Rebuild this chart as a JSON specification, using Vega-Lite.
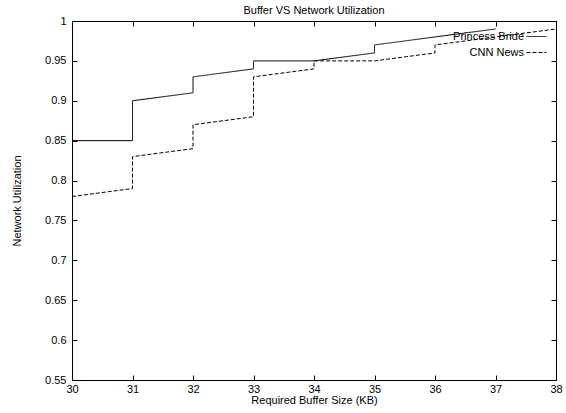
{
  "$schema": "https://vega.github.io/schema/vega-lite/v6.json",
  "width": 484,
  "height": 359,
  "autosize": {"type": "none"},
  "padding": {"left": 72, "top": 21, "right": 10, "bottom": 33},
  "background": "white",
  "title": {"text": "Buffer VS Network Utilization", "fontSize": 11, "font": "Liberation Sans", "fontWeight": "normal", "color": "black", "offset": -1},
  "config": {
    "view": {"stroke": "black", "strokeWidth": 1},
    "axis": {"labelFont": "Liberation Sans", "titleFont": "Liberation Sans", "labelFontSize": 11, "titleFontSize": 11, "titleFontWeight": "normal", "labelColor": "black", "titleColor": "black", "domainColor": "black", "tickColor": "black", "grid": false},
    "legend": {"labelFont": "Liberation Sans", "labelFontSize": 11, "labelColor": "black"}
  },
  "data": {"values": [
    {"s": "Princess Bride", "i": 0, "x": 30, "y": 0.85},
    {"s": "Princess Bride", "i": 1, "x": 31, "y": 0.85},
    {"s": "Princess Bride", "i": 2, "x": 31, "y": 0.90},
    {"s": "Princess Bride", "i": 3, "x": 32, "y": 0.91},
    {"s": "Princess Bride", "i": 4, "x": 32, "y": 0.93},
    {"s": "Princess Bride", "i": 5, "x": 33, "y": 0.94},
    {"s": "Princess Bride", "i": 6, "x": 33, "y": 0.95},
    {"s": "Princess Bride", "i": 7, "x": 34, "y": 0.95},
    {"s": "Princess Bride", "i": 8, "x": 35, "y": 0.96},
    {"s": "Princess Bride", "i": 9, "x": 35, "y": 0.97},
    {"s": "Princess Bride", "i": 10, "x": 36, "y": 0.98},
    {"s": "Princess Bride", "i": 11, "x": 37, "y": 0.99},
    {"s": "CNN News", "i": 0, "x": 30, "y": 0.78},
    {"s": "CNN News", "i": 1, "x": 31, "y": 0.79},
    {"s": "CNN News", "i": 2, "x": 31, "y": 0.83},
    {"s": "CNN News", "i": 3, "x": 32, "y": 0.84},
    {"s": "CNN News", "i": 4, "x": 32, "y": 0.87},
    {"s": "CNN News", "i": 5, "x": 33, "y": 0.88},
    {"s": "CNN News", "i": 6, "x": 33, "y": 0.93},
    {"s": "CNN News", "i": 7, "x": 34, "y": 0.94},
    {"s": "CNN News", "i": 8, "x": 34, "y": 0.95},
    {"s": "CNN News", "i": 9, "x": 35, "y": 0.95},
    {"s": "CNN News", "i": 10, "x": 36, "y": 0.96},
    {"s": "CNN News", "i": 11, "x": 36, "y": 0.97},
    {"s": "CNN News", "i": 12, "x": 37, "y": 0.98},
    {"s": "CNN News", "i": 13, "x": 38, "y": 0.99}
  ]},
  "resolve": {"axis": {"x": "independent", "y": "independent"}},
  "layer": [
    {
      "mark": {"type": "line", "color": "black", "strokeWidth": 1, "clip": true},
      "encoding": {
        "x": {"field": "x", "type": "quantitative", "scale": {"domain": [30, 38], "nice": false, "zero": false},
          "axis": {"title": "Required Buffer Size (KB)", "values": [30,31,32,33,34,35,36,37,38], "tickSize": -5, "labelPadding": 8, "titlePadding": 0, "format": "d", "labelFlush": false, "labelOverlap": false}},
        "y": {"field": "y", "type": "quantitative", "scale": {"domain": [0.55, 1], "nice": false, "zero": false},
          "axis": {"title": "Network Utilization", "values": [0.55,0.6,0.65,0.7,0.75,0.8,0.85,0.9,0.95,1], "tickSize": -5, "labelPadding": 11, "titlePadding": 22, "format": ".2~f", "labelFlush": false, "labelOverlap": false}},
        "detail": {"field": "s"},
        "order": {"field": "i", "type": "quantitative"},
        "strokeDash": {"field": "s", "type": "nominal",
          "scale": {"domain": ["Princess Bride", "CNN News"], "range": [[1, 0], [4, 2]]},
          "legend": {"title": null, "orient": "none", "legendX": 454, "legendY": 5, "symbolType": "stroke", "symbolSize": 400, "symbolStrokeColor": "black", "symbolStrokeWidth": 1, "labelAlign": "right", "labelOffset": -23, "rowPadding": -5, "padding": 0}}
      }
    },
    {
      "mark": {"type": "line", "opacity": 0},
      "encoding": {
        "x": {"field": "x", "type": "quantitative", "axis": {"orient": "top", "labels": false, "title": null, "values": [30,31,32,33,34,35,36,37,38], "tickSize": -5}},
        "y": {"field": "y", "type": "quantitative", "axis": {"orient": "right", "labels": false, "title": null, "values": [0.55,0.6,0.65,0.7,0.75,0.8,0.85,0.9,0.95,1], "tickSize": -5}},
        "detail": {"field": "s"}
      }
    }
  ]
}
